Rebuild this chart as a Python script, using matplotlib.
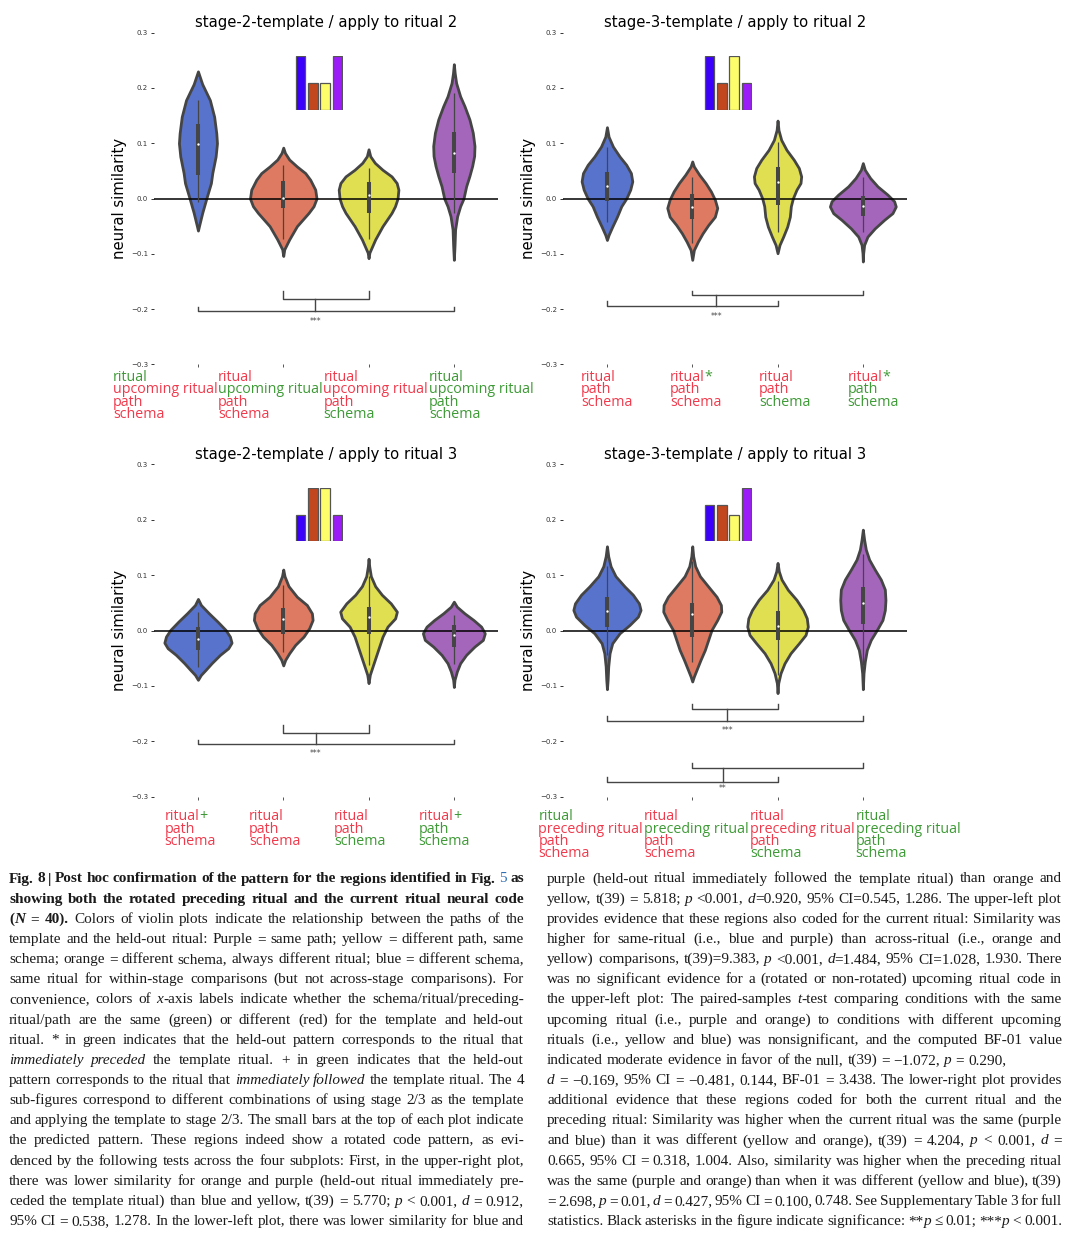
import re
import matplotlib
matplotlib.use('Agg')
import matplotlib.pyplot as plt
from matplotlib.offsetbox import TextArea, HPacker, VPacker, AnchoredOffsetbox

W, H = 1080, 1236

# ============================================================
# DATA
# ============================================================

positions     = [0, 1, 2, 3]
violin_colors = ['#5873cc', '#dd7a61', '#e0df52', '#a466bb']
bar_colors    = ['#3a00fb', '#c2461e', '#fdfc6b', '#9b1cf9']
label_colors  = {'r': '#f03a4c', 'g': '#3e9a36'}

titles = ['stage-2-template / apply to ritual 2',
          'stage-3-template / apply to ritual 2',
          'stage-2-template / apply to ritual 3',
          'stage-3-template / apply to ritual 3']

# predicted pattern (small bars at the top of each plot)
pred_tl = [2, 1, 1, 2]
pred_tr = [2, 1, 2, 1]
pred_bl = [1, 2, 2, 1]
pred_br = [1.36, 1.36, 1.0, 2.0]

# violin outlines: y values and half widths (x units)
tl_y = [[0.230, 0.207, 0.178, 0.148, 0.118, 0.100, 0.076, 0.046, 0.028, 0.000, -0.026, -0.050, -0.058],
        [0.092, 0.0825, 0.0705, 0.058, 0.046, 0.034, 0.016, 0.000, -0.014, -0.026, -0.050, -0.074, -0.092, -0.104],
        [0.089, 0.0765, 0.0645, 0.052, 0.040, 0.028, 0.016, 0.000, -0.014, -0.026, -0.050, -0.074, -0.098, -0.108],
        [0.243, 0.227, 0.209, 0.185, 0.167, 0.143, 0.119, 0.095, 0.077, 0.059, 0.041, 0.022, 0.000, -0.014, -0.032, -0.056, -0.086, -0.111]]
tl_w = [[0.0, 0.050, 0.140, 0.190, 0.215, 0.223, 0.207, 0.168, 0.152, 0.098, 0.050, 0.012, 0.0],
        [0.0, 0.020, 0.070, 0.160, 0.258, 0.316, 0.375, 0.390, 0.355, 0.297, 0.160, 0.070, 0.012, 0.0],
        [0.0, 0.020, 0.074, 0.164, 0.270, 0.330, 0.350, 0.340, 0.310, 0.270, 0.164, 0.078, 0.010, 0.0],
        [0.0, 0.010, 0.027, 0.074, 0.125, 0.183, 0.222, 0.242, 0.238, 0.215, 0.183, 0.144, 0.113, 0.074, 0.039, 0.015, 0.008, 0.0]]

tr_y = [[0.129, 0.112, 0.094, 0.076, 0.061, 0.046, 0.031, 0.016, 0.000, -0.014, -0.033, -0.051, -0.066, -0.075],
        [0.067, 0.058, 0.043, 0.028, 0.013, -0.002, -0.017, -0.033, -0.048, -0.063, -0.078, -0.093, -0.111],
        [0.141, 0.124, 0.106, 0.088, 0.070, 0.055, 0.040, 0.028, 0.016, 0.000, -0.014, -0.033, -0.051, -0.069, -0.084, -0.099],
        [0.064, 0.052, 0.037, 0.022, 0.007, -0.005, -0.0145, -0.0265, -0.0386, -0.054, -0.069, -0.084, -0.099, -0.114]]
tr_w = [[0.0, 0.019, 0.070, 0.148, 0.226, 0.281, 0.297, 0.273, 0.226, 0.168, 0.117, 0.062, 0.019, 0.0],
        [0.0, 0.019, 0.082, 0.156, 0.218, 0.265, 0.293, 0.265, 0.187, 0.121, 0.066, 0.019, 0.0],
        [0.0, 0.011, 0.043, 0.105, 0.191, 0.250, 0.277, 0.269, 0.222, 0.179, 0.156, 0.144, 0.113, 0.066, 0.023, 0.0],
        [0.0, 0.023, 0.086, 0.172, 0.289, 0.367, 0.386, 0.347, 0.250, 0.140, 0.054, 0.015, 0.004, 0.0]]

bl_y = [[0.057, 0.046, 0.031, 0.016, 0.001, -0.011, -0.022, -0.032, -0.044, -0.059, -0.071, -0.080, -0.089],
        [0.110, 0.098, 0.080, 0.061, 0.046, 0.031, 0.019, 0.004, -0.011, -0.026, -0.041, -0.053, -0.063],
        [0.1295, 0.116, 0.098, 0.080, 0.0645, 0.049, 0.034, 0.022, 0.007, -0.011, -0.029, -0.047, -0.065, -0.080, -0.095],
        [0.052, 0.043, 0.031, 0.019, 0.007, -0.005, -0.017, -0.029, -0.044, -0.059, -0.074, -0.089, -0.102]]
bl_w = [[0.0, 0.035, 0.129, 0.230, 0.324, 0.375, 0.394, 0.355, 0.258, 0.160, 0.090, 0.035, 0.0],
        [0.0, 0.015, 0.062, 0.160, 0.277, 0.336, 0.344, 0.304, 0.238, 0.140, 0.070, 0.023, 0.0],
        [0.0, 0.008, 0.027, 0.078, 0.156, 0.261, 0.332, 0.312, 0.222, 0.164, 0.125, 0.086, 0.047, 0.015, 0.0],
        [0.0, 0.035, 0.125, 0.230, 0.320, 0.363, 0.340, 0.242, 0.144, 0.074, 0.035, 0.008, 0.0]]

br_y = [[0.152, 0.134, 0.116, 0.098, 0.0795, 0.0645, 0.049, 0.037, 0.025, 0.010, -0.005, -0.023, -0.041, -0.065, -0.089, -0.106],
        [0.152, 0.134, 0.116, 0.098, 0.0795, 0.061, 0.046, 0.034, 0.019, 0.001, -0.017, -0.035, -0.053, -0.071, -0.083, -0.092],
        [0.122, 0.107, 0.092, 0.0735, 0.0554, 0.037, 0.022, 0.007, -0.008, -0.023, -0.041, -0.059, -0.077, -0.095, -0.113],
        [0.182, 0.164, 0.146, 0.128, 0.110, 0.092, 0.074, 0.055, 0.037, 0.019, 0.001, -0.017, -0.035, -0.056, -0.077, -0.106]]
br_w = [[0.0, 0.015, 0.043, 0.101, 0.207, 0.304, 0.375, 0.394, 0.363, 0.265, 0.148, 0.062, 0.031, 0.015, 0.008, 0.0],
        [0.0, 0.011, 0.035, 0.090, 0.187, 0.285, 0.336, 0.340, 0.293, 0.226, 0.187, 0.148, 0.097, 0.050, 0.019, 0.0],
        [0.0, 0.015, 0.047, 0.121, 0.222, 0.300, 0.343, 0.355, 0.328, 0.250, 0.152, 0.082, 0.035, 0.008, 0.0],
        [0.0, 0.015, 0.035, 0.074, 0.140, 0.211, 0.258, 0.265, 0.258, 0.230, 0.164, 0.093, 0.047, 0.023, 0.008, 0.0]]

# inner box: whisker low, q1, median, q3, whisker high
tl_box = [[-0.007, 0.042, 0.098, 0.134, 0.179], [-0.073, -0.018, 0.001, 0.031, 0.060],
          [-0.074, -0.027, 0.007, 0.030, 0.055], [-0.027, 0.046, 0.083, 0.120, 0.191]]
tr_box = [[-0.042, -0.004, 0.022, 0.048, 0.094], [-0.081, -0.037, -0.0145, 0.008, 0.038],
          [-0.061, -0.012, 0.030, 0.057, 0.103], [-0.060, -0.031, -0.013, 0.005, 0.038]]
bl_box = [[-0.065, -0.036, -0.0157, 0.006, 0.0325], [-0.038, -0.0066, 0.0205, 0.040, 0.0825],
          [-0.062, -0.0066, 0.024, 0.042, 0.0976], [-0.061, -0.029, -0.009, 0.010, 0.028]]
br_box = [[-0.044, 0.0072, 0.036, 0.0596, 0.117], [-0.056, -0.012, 0.0295, 0.0494, 0.125],
          [-0.080, -0.0169, 0.009, 0.0355, 0.0886], [-0.063, 0.012, 0.049, 0.078, 0.1386]]

# significance brackets: (x left, x right, y bar, y arm tip)
tl_brackets = [(1, 2, -0.1825, -0.1675), (0, 3, -0.2036, -0.196)]
tr_brackets = [(1, 3, -0.175, -0.167), (0, 2, -0.195, -0.1855)]
bl_brackets = [(1, 2, -0.1855, -0.1705), (0, 3, -0.2054, -0.1976)]
br_brackets = [(1, 2, -0.142, -0.1325), (0, 3, -0.1627, -0.154),
               (1, 3, -0.2476, -0.2386), (0, 2, -0.273, -0.265)]
# connectors between bracket pairs (x, y top, y bottom) and star labels
tl_links = [(1.375, -0.1825, -0.2036)]
tr_links = [(1.28, -0.175, -0.195)]
bl_links = [(1.38, -0.1855, -0.2054)]
br_links = [(1.41, -0.142, -0.1627), (1.36, -0.2476, -0.273)]
tl_stars = [(1.375, -0.222, '***')]
tr_stars = [(1.28, -0.2127, '***')]
bl_stars = [(1.38, -0.2217, '***')]
br_stars = [(1.41, -0.181, '***'), (1.36, -0.286, '**')]

# x-axis labels, one list of lines per violin ("colour:text" segments joined by |)
tl_labels = [['g:ritual', 'r:upcoming ritual', 'r:path', 'r:schema'],
             ['r:ritual', 'g:upcoming ritual', 'r:path', 'r:schema'],
             ['r:ritual', 'r:upcoming ritual', 'r:path', 'g:schema'],
             ['g:ritual', 'g:upcoming ritual', 'g:path', 'g:schema']]
tr_labels = [['r:ritual', 'r:path', 'r:schema'],
             ['r:ritual|g:*', 'r:path', 'r:schema'],
             ['r:ritual', 'r:path', 'g:schema'],
             ['r:ritual|g:*', 'g:path', 'g:schema']]
bl_labels = [['r:ritual|g:+', 'r:path', 'r:schema'],
             ['r:ritual', 'r:path', 'r:schema'],
             ['r:ritual', 'r:path', 'g:schema'],
             ['r:ritual|g:+', 'g:path', 'g:schema']]
br_labels = [['g:ritual', 'r:preceding ritual', 'r:path', 'r:schema'],
             ['r:ritual', 'g:preceding ritual', 'r:path', 'r:schema'],
             ['r:ritual', 'r:preceding ritual', 'r:path', 'g:schema'],
             ['g:ritual', 'g:preceding ritual', 'g:path', 'g:schema']]

caption_left = [
    "<b>Fig. 8 | Post hoc confirmation of the pattern for the regions identified in Fig. </b><c>5</c><b> as</b>",
    "<b>showing both the rotated preceding ritual and the current ritual neural code</b>",
    "<b>(<i>N</i> = 40).</b> Colors of violin plots indicate the relationship between the paths of the",
    "template and the held-out ritual: Purple = same path; yellow = different path, same",
    "schema; orange = different schema, always different ritual; blue = different schema,",
    "same ritual for within-stage comparisons (but not across-stage comparisons). For",
    "convenience, colors of <i>x</i>-axis labels indicate whether the schema/ritual/preceding-",
    "ritual/path are the same (green) or different (red) for the template and held-out",
    "ritual. * in green indicates that the held-out pattern corresponds to the ritual that",
    "<i>immediately preceded</i> the template ritual. + in green indicates that the held-out",
    "pattern corresponds to the ritual that <i>immediately followed</i> the template ritual. The 4",
    "sub-figures correspond to different combinations of using stage 2/3 as the template",
    "and applying the template to stage 2/3. The small bars at the top of each plot indicate",
    "the predicted pattern. These regions indeed show a rotated code pattern, as evi-",
    "denced by the following tests across the four subplots: First, in the upper-right plot,",
    "there was lower similarity for orange and purple (held-out ritual immediately pre-",
    "ceded the template ritual) than blue and yellow, t(39) = 5.770; <i>p</i>  < 0.001, <i>d</i> = 0.912,",
    "95% CI = 0.538, 1.278. In the lower-left plot, there was lower similarity for blue and",
]
caption_right = [
    "purple (held-out ritual immediately followed the template ritual) than orange and",
    "yellow, t(39) = 5.818; <i>p</i> <0.001, <i>d</i>=0.920, 95% CI=0.545, 1.286. The upper-left plot",
    "provides evidence that these regions also coded for the current ritual: Similarity was",
    "higher for same-ritual (i.e., blue and purple) than across-ritual (i.e., orange and",
    "yellow) comparisons, t(39)=9.383, <i>p</i> <0.001, <i>d</i>=1.484, 95% CI=1.028, 1.930. There",
    "was no significant evidence for a (rotated or non-rotated) upcoming ritual code in",
    "the upper-left plot: The paired-samples <i>t</i>-test comparing conditions with the same",
    "upcoming ritual (i.e., purple and orange) to conditions with different upcoming",
    "rituals (i.e., yellow and blue) was nonsignificant, and the computed BF-01 value",
    "indicated moderate evidence in favor of the null, t(39) = \u22121.072, <i>p</i> = 0.290,",
    "<i>d</i> = \u22120.169, 95% CI = \u22120.481, 0.144, BF-01 = 3.438. The lower-right plot provides",
    "additional evidence that these regions coded for both the current ritual and the",
    "preceding ritual: Similarity was higher when the current ritual was the same (purple",
    "and blue) than it was different (yellow and orange), t(39) = 4.204, <i>p</i>  < 0.001, <i>d</i> =",
    "0.665, 95% CI = 0.318, 1.004. Also, similarity was higher when the preceding ritual",
    "was the same (purple and orange) than when it was different (yellow and blue), t(39)",
    "= 2.698, <i>p</i> = 0.01, <i>d</i> = 0.427, 95% CI = 0.100, 0.748. See Supplementary Table 3 for full",
    "statistics. Black asterisks in the figure indicate significance: **<i>p</i> \u2264 0.01; ***<i>p</i> < 0.001.",
]
ragged_right = [9]   # lines of the right column that are not justified

# ============================================================
# FIGURE
# ============================================================

fig = plt.figure(figsize=(W / 100, H / 100), dpi=100)
fig.patch.set_facecolor('white')

edge = '#454545'
# axes rectangles in pixels: left, bottom, width, height
rects_px = [(153.6, 364.3, 344.6, 331.6), (562.6, 364.3, 344.6, 331.6),
            (153.6, 796.7, 344.6, 332.4), (562.6, 796.7, 344.6, 332.4)]
label_dx  = [-0.008, 0.015, -0.025, 0.042]
label_dy  = [-0.017, -0.017, -0.038, -0.038]
label_sep = [0.5, 27, 24, 0.8]

all_y      = [tl_y, tr_y, bl_y, br_y]
all_w      = [tl_w, tr_w, bl_w, br_w]
all_box    = [tl_box, tr_box, bl_box, br_box]
all_pred   = [pred_tl, pred_tr, pred_bl, pred_br]
all_brk    = [tl_brackets, tr_brackets, bl_brackets, br_brackets]
all_links  = [tl_links, tr_links, bl_links, br_links]
all_stars  = [tl_stars, tr_stars, bl_stars, br_stars]
all_labels = [tl_labels, tr_labels, bl_labels, br_labels]


def label_block(labels, sep):
    cols = []
    for lab in labels:
        rows = []
        for line in lab:
            parts = []
            for seg in line.split('|'):
                c, txt = seg.split(':', 1)
                parts.append(TextArea(txt, textprops=dict(color=label_colors[c],
                                                          family='Open Sans', size=10.3)))
            rows.append(parts[0] if len(parts) == 1 else HPacker(children=parts, pad=0, sep=0))
        cols.append(VPacker(children=rows, pad=0, sep=-1.9, align='left'))
    return HPacker(children=cols, pad=0, sep=sep, align='top')


for k in range(4):
    l, b, w, h = rects_px[k]
    ax = fig.add_axes([l / W, 1 - b / H, w / W, h / H])
    ax.set_facecolor('white')

    stats = []
    for yy, ww, box in zip(all_y[k], all_w[k], all_box[k]):
        stats.append(dict(coords=yy, vals=ww, mean=box[2], median=box[2],
                          min=min(yy), max=max(yy)))
    widths = [2 * max(ww) for ww in all_w[k]]
    parts = ax.violin(stats, positions=positions, widths=widths, showextrema=False)
    for body, col in zip(parts['bodies'], violin_colors):
        body.set_facecolor(col)
        body.set_edgecolor(edge)
        body.set_linewidth(2)
        body.set_alpha(1)
        body.set_zorder(2)

    for x, box in zip(positions, all_box[k]):
        ax.vlines(x, box[0], box[4], color=edge, lw=0.9, zorder=4)
        ax.vlines(x, box[1], box[3], color=edge, lw=2.9, zorder=4)
        ax.scatter([x], [box[2]], s=3, color='white', linewidths=0, zorder=5)

    ax.axhline(0, color='black', lw=1.1, zorder=3)

    for xl, xr, ybar, ytip in all_brk[k]:
        ax.plot([xl, xl, xr, xr], [ytip, ybar, ybar, ytip], color=edge, lw=1.0)
    for x, y0, y1 in all_links[k]:
        ax.plot([x, x], [y0, y1], color=edge, lw=1.0)
    for x, y, s in all_stars[k]:
        ax.text(x, y, s, ha='center', va='center', fontsize=5.5, color=edge)

    # predicted pattern
    ins = ax.inset_axes([1.14, 0.161, 0.56, 0.096], transform=ax.transData)
    ins.bar(positions, all_pred[k], width=0.78, color=bar_colors, edgecolor='#555555', linewidth=0.9)
    ins.set_xlim(-0.45, 3.45)
    ins.set_ylim(0, 2)
    ins.axis('off')

    ax.set_xlim(-0.52, 3.52)
    ax.set_ylim(-0.3, 0.3)
    ax.set_yticks([-0.3, -0.2, -0.1, 0.0, 0.1, 0.2, 0.3])
    ax.set_xticks(positions)
    ax.set_xticklabels([])
    ax.tick_params(axis='y', labelsize=5, length=2, width=0.7, pad=2, colors='#333333')
    ax.tick_params(axis='x', length=2, width=0.7, colors='#555555')
    for sp in ax.spines.values():
        sp.set_visible(False)

    ax.set_title(titles[k], fontsize=10.7, pad=4)
    ax.set_ylabel('neural similarity', fontsize=10.7, labelpad=3)

    box = AnchoredOffsetbox(loc='upper center', child=label_block(all_labels[k], label_sep[k]),
                            pad=0, borderpad=0, frameon=False,
                            bbox_to_anchor=(0.5 + label_dx[k], label_dy[k]),
                            bbox_transform=ax.transAxes)
    ax.add_artist(box)

# ============================================================
# CAPTION (justified, two columns)
# ============================================================

cap_font  = 'Liberation Serif'
cap_size  = 11.0
text_col  = '#1a1a1a'
link_col  = '#2f6fb3'
base0     = 882.5
pitch     = 20.15
space_px  = 0.25 * cap_size * 100 / 72
renderer  = fig.canvas.get_renderer()


def parse_runs(line):
    bold = ital = link = False
    runs = []
    for tok in re.split(r'(</?[bic]>)', line):
        if tok in ('<b>', '</b>'):
            bold = tok == '<b>'
        elif tok in ('<i>', '</i>'):
            ital = tok == '<i>'
        elif tok in ('<c>', '</c>'):
            link = tok == '<c>'
        elif tok:
            runs.append((tok, bold, ital, link))
    return runs


def split_words(runs):
    words, cur = [], []
    for text, b, i, c in runs:
        for n, piece in enumerate(text.split(' ')):
            if n > 0 and cur:
                words.append(cur)
                cur = []
            if piece:
                cur.append((piece, b, i, c))
    if cur:
        words.append(cur)
    return words


def draw_line(x0, x1, base, line, justify):
    placed, widths = [], []
    for word in split_words(parse_runs(line)):
        arts, wpx = [], 0
        for text, b, i, c in word:
            t = fig.text(0, 0, text, fontsize=cap_size, family=cap_font,
                         fontweight='bold' if b else 'normal',
                         fontstyle='italic' if i else 'normal',
                         color=link_col if c else text_col, ha='left', va='baseline')
            arts.append((t, wpx))
            wpx += t.get_window_extent(renderer).width
        placed.append(arts)
        widths.append(wpx)
    gap = space_px
    if justify and len(widths) > 1:
        gap = max((x1 - x0 - sum(widths)) / (len(widths) - 1), 1.5)
    x = x0
    for arts, wpx in zip(placed, widths):
        for t, off in arts:
            t.set_position(((x + off) / W, 1 - base / H))
        x += wpx + gap


for n, line in enumerate(caption_left):
    draw_line(9, 524, base0 + n * pitch, line, True)
for n, line in enumerate(caption_right):
    draw_line(547, 1062, base0 + n * pitch, line, n not in ragged_right)

fig.savefig('out.png', dpi=100, facecolor='white')
